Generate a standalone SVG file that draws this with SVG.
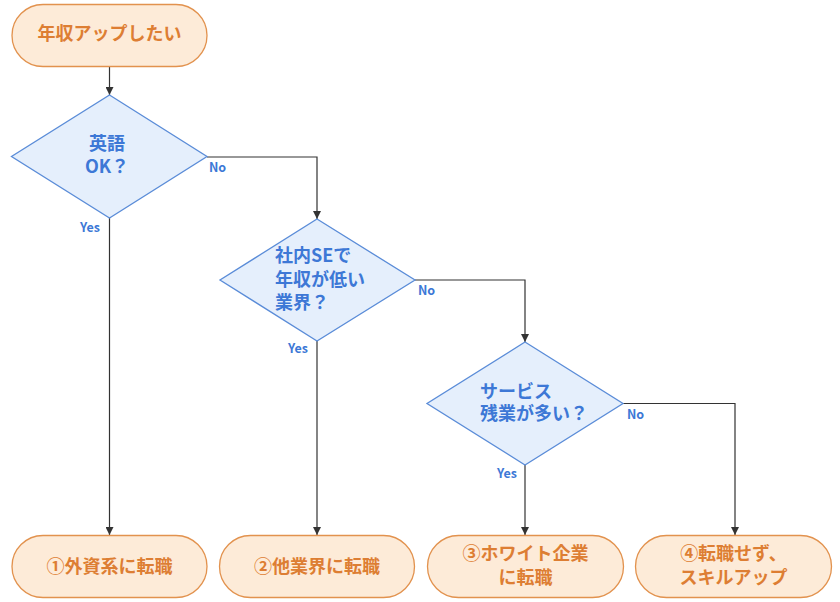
<svg xmlns="http://www.w3.org/2000/svg" width="840" height="602" viewBox="0 0 840 602">
<defs>
<style>
.term{fill:#fdebd8;stroke:#e2924e;stroke-width:1.3}
.dec{fill:#e5effc;stroke:#5a8cd8;stroke-width:1.3}
.tt{font-family:"Noto Sans CJK JP","Noto Sans",sans-serif;font-weight:bold;font-size:18px;fill:#dd7e33}
.dt{font-family:"Noto Sans CJK JP","Noto Sans",sans-serif;font-weight:bold;font-size:18px;fill:#3d78d6}
.lbl{font-family:"Noto Sans CJK JP","Noto Sans",sans-serif;font-weight:bold;font-size:12.5px;fill:#3d78d6}
.edge{fill:none;stroke:#333;stroke-width:1.2}
</style>
<marker id="arr" viewBox="0 0 10 10" refX="10" refY="5" markerWidth="8" markerHeight="8" markerUnits="userSpaceOnUse" orient="auto">
<path d="M0,0 L10,5 L0,10 z" fill="#333"/>
</marker>
</defs>
<rect width="840" height="602" fill="#fff"/>
<g id="edges">
<path class="edge" d="M109.5,67 V95" marker-end="url(#arr)"/>
<path class="edge" d="M207,157 H317 V219" marker-end="url(#arr)"/>
<path class="edge" d="M109.5,218 V535" marker-end="url(#arr)"/>
<path class="edge" d="M415,280 H525 V342" marker-end="url(#arr)"/>
<path class="edge" d="M317,341 V535" marker-end="url(#arr)"/>
<path class="edge" d="M623,403.5 H735 V535" marker-end="url(#arr)"/>
<path class="edge" d="M525,465 V535" marker-end="url(#arr)"/>
<text class="lbl" x="209" y="172">No</text>
<text class="lbl" x="80" y="232">Yes</text>
<text class="lbl" x="418" y="295">No</text>
<text class="lbl" x="288" y="353">Yes</text>
<text class="lbl" x="627" y="419">No</text>
<text class="lbl" x="497" y="478">Yes</text>
</g>
<g id="start">
<rect class="term" x="12" y="4.5" width="195" height="62" rx="31"/>
<text class="tt" x="109.5" y="40" text-anchor="middle">年収アップしたい</text>
</g>
<g id="q1">
<polygon class="dec" points="109.5,95 207,156.5 109.5,218 11.5,156.5"/>
<text class="dt" x="107" y="150" text-anchor="middle">英語</text>
<text class="dt" x="107" y="173" text-anchor="middle">OK？</text>
</g>
<g id="q2">
<polygon class="dec" points="317,219 415,280 317,341 220,280"/>
<text class="dt" x="275" y="262">社内SEで</text>
<text class="dt" x="275" y="286">年収が低い</text>
<text class="dt" x="275" y="309">業界？</text>
</g>
<g id="q3">
<polygon class="dec" points="525,342 623,403.5 525,465 427,403.5"/>
<text class="dt" x="480" y="398">サービス</text>
<text class="dt" x="480" y="420">残業が多い？</text>
</g>
<g id="end1">
<rect class="term" x="12" y="535.5" width="195" height="62" rx="31"/>
<text class="tt" x="109.5" y="573" text-anchor="middle">①外資系に転職</text>
</g>
<g id="end2">
<rect class="term" x="219.5" y="535.5" width="195" height="62" rx="31"/>
<text class="tt" x="317" y="573" text-anchor="middle">②他業界に転職</text>
</g>
<g id="end3">
<rect class="term" x="427.5" y="535.5" width="196" height="62" rx="31"/>
<text class="tt" x="525.5" y="560" text-anchor="middle">③ホワイト企業</text>
<text class="tt" x="525.5" y="584" text-anchor="middle">に転職</text>
</g>
<g id="end4">
<rect class="term" x="635.5" y="535.5" width="196" height="62" rx="31"/>
<text class="tt" x="733.5" y="560" text-anchor="middle">④転職せず、</text>
<text class="tt" x="733.5" y="584" text-anchor="middle">スキルアップ</text>
</g>
</svg>
